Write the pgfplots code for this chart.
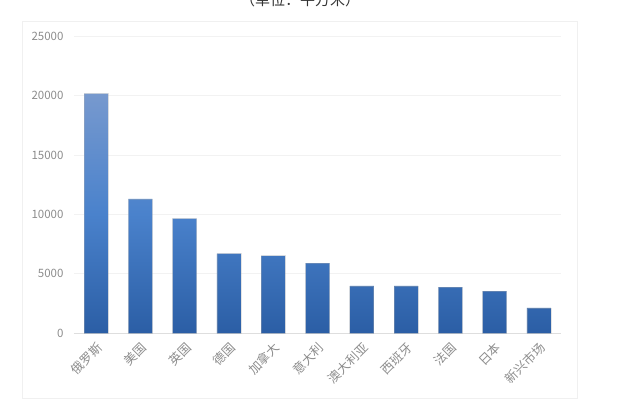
\documentclass[border=0pt]{standalone}
\usepackage{pgfplots}
\pgfplotsset{compat=1.18}
\usepackage{fontspec}
\setmainfont{Noto Sans CJK SC}
\definecolor{tickgray}{HTML}{8C8C8C}
\definecolor{bartop}{HTML}{7799CE}
\definecolor{barmid}{HTML}{4A82CC}
\definecolor{barbot}{HTML}{2B5EA5}
\begin{document}
\begin{tikzpicture}
\useasboundingbox (0pt,0pt) rectangle (635pt,401pt);
\begin{scope}
\clip (0pt,0pt) rectangle (635pt,401pt);
\node[anchor=base, font=\fontsize{15}{15}\selectfont, text=black!80, inner sep=0pt] at (300pt,395pt) {（单位：平方米）};
\end{scope}
\draw[black!6, line width=0.8pt] (22pt,3pt) rectangle (577pt,379.3pt);
\begin{axis}[
  at={(74pt,67.7pt)}, anchor=south west,
  scale only axis, width=487pt, height=297.3pt,
  xmin=-0.5, xmax=10.5, ymin=0, ymax=25000,
  ytick={0,5000,10000,15000,20000,25000},
  scaled y ticks=false,
  xtick={0,1,2,3,4,5,6,7,8,9,10},
  xticklabels={俄罗斯,美国,英国,德国,加拿大,意大利,澳大利亚,西班牙,法国,日本,新兴市场},
  axis line style={draw=none},
  major tick length=0pt,
  ymajorgrids, grid style={black!5, line width=0.8pt},
  /pgf/number format/1000 sep={},
  /pgf/number format/assume math mode=true,
  yticklabel style={font=\fontsize{11.5}{11.5}\selectfont, text=tickgray, xshift=-7pt},
  xticklabel style={font=\fontsize{12.5}{12.5}\selectfont, text=tickgray, xshift=4pt, yshift=-12pt, rotate=45, anchor=east, inner sep=0pt},
  clip=false,
]
\draw[black!13, line width=0.8pt] (axis cs:-0.5,0) -- (axis cs:10.5,0);
\addplot[ybar, bar width=24pt, draw=black!30, draw opacity=0.35, line width=0.6pt,
  top color=bartop, bottom color=barbot, middle color=barmid]
coordinates {(0,20150) (1,11300) (2,9640) (3,6690) (4,6520) (5,5900) (6,3990) (7,3980) (8,3880) (9,3550) (10,2130)};
\end{axis}
\end{tikzpicture}
\end{document}
